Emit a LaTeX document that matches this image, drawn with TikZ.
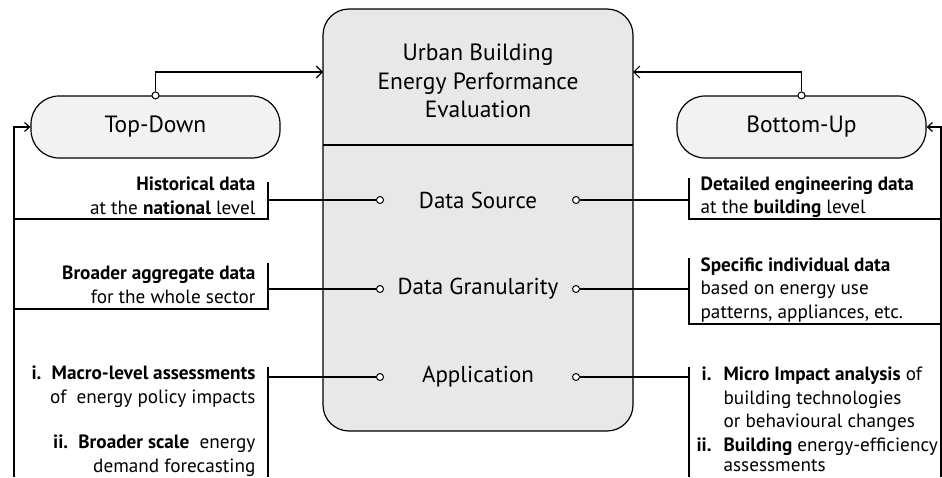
\documentclass[tikz,border=0pt]{standalone}
\usepackage{fontspec}
\setmainfont{PT Sans}
\usepackage{tikz}
\usetikzlibrary{arrows.meta, positioning, calc}

\begin{document}
\begin{tikzpicture}[x=1pt, y=-1pt, line width=1.2pt,
  >={Straight Barb[length=6pt,width=12pt]},
  pill/.style={draw, fill=gray!10, rounded corners=28pt, minimum width=249pt, minimum height=62pt, font=\fontsize{23.5}{26}\selectfont},
  dot/.style={draw, circle, fill=white, inner sep=0pt, minimum size=7pt, line width=1pt},
  item/.style={font=\fontsize{23}{28}\selectfont},
  note/.style={font=\fontsize{19.2}{23.5}\selectfont, inner sep=0pt}]
\useasboundingbox (0,0) rectangle (942,477);

% Evaluation box
\node[draw, fill=gray!18, rounded corners=26pt, minimum width=310pt, minimum height=422pt] (eval) at (478,220) {};
\node[item, align=center, font=\fontsize{23.5}{28.5}\selectfont] (title) at (478,81) {Urban Building\\Energy Performance\\Evaluation};
\draw (323,145) -- (633,145);
\node[item] (src) at (478,200) {Data Source};
\node[item] (gran) at (478,289) {Data Granularity};
\node[item] (app) at (478,377) {Application};

% Top-down view
\node[pill] (td) at (155.5,127) {Top-Down};
\node[dot] (tdo) at (td.north) {};
\coordinate (tdin) at (323,72);
\draw[->] (tdo) |- (tdin);
\coordinate (tdfb) at (14,477);
\draw[->, >={Straight Barb[length=5pt,width=9pt]}] (tdfb) |- (td.west);

\node[dot] (cl1) at (380,200) {};
\node[dot] (cl2) at (380,289) {};
\node[dot] (cl3) at (380,377) {};
\draw (14,219) -- (268,219) -- (268,182);
\draw (14,309) -- (268,309) -- (268,263);
\draw (268,367) -- (268,477);
\coordinate (bl1) at (268,200);
\coordinate (bl2) at (268,289);
\coordinate (bl3) at (268,377);
\draw (bl1) -- (cl1);
\draw (bl2) -- (cl2);
\draw (bl3) -- (cl3);
\node[note, anchor=east, align=right] (hist) at (256,196) {\textbf{Historical data}\\at the \textbf{national} level};
\node[note, anchor=east, align=right] (aggr) at (256,285) {\textbf{Broader aggregate data}\\for the whole sector};
\node[note, anchor=east, align=right] (macro) at (256,421) {\textbf{i.}\ \ \textbf{Macro-level assessments}\\of\ \ energy policy impacts\\[22pt]\textbf{ii.}\ \ \textbf{Broader scale}\ \ energy\\demand forecasting};

% Bottom-up view
\node[pill] (bu) at (801.5,127) {Bottom-Up};
\node[dot] (buo) at (bu.north) {};
\coordinate (buin) at (633,72);
\draw[->] (buo) |- (buin);
\coordinate (bufb) at (941,477);
\draw[->, >={Straight Barb[length=5pt,width=9pt]}] (bufb) |- (bu.east);

\node[dot] (cr1) at (576,200) {};
\node[dot] (cr2) at (576,289) {};
\node[dot] (cr3) at (576,377) {};
\draw (941,219) -- (689,219) -- (689,178);
\draw (941,324) -- (689,324) -- (689,258);
\draw (689,367) -- (689,477);
\coordinate (br1) at (689,200);
\coordinate (br2) at (689,289);
\coordinate (br3) at (689,377);
\draw (cr1) -- (br1);
\draw (cr2) -- (br2);
\draw (cr3) -- (br3);
\node[note, anchor=west, align=left] (detail) at (700,197) {\textbf{Detailed engineering data}\\at the \textbf{building} level};
\node[note, anchor=west, align=left] (indiv) at (700,290) {\textbf{Specific individual data}\\based on energy use\\patterns, appliances, etc.};
\node[note, anchor=west, align=left] (micro) at (697,419.5) {\makebox[14pt][r]{\textbf{i.}}\hspace{12pt}\textbf{Micro Impact analysis} of\\\hspace*{26pt}building technologies\\\hspace*{26pt}or behavioural changes\\\makebox[14pt][r]{\textbf{ii.}}\hspace{12pt}\textbf{Building} energy-efficiency\\[-3pt]\hspace*{26pt}assessments};
\end{tikzpicture}
\end{document}
